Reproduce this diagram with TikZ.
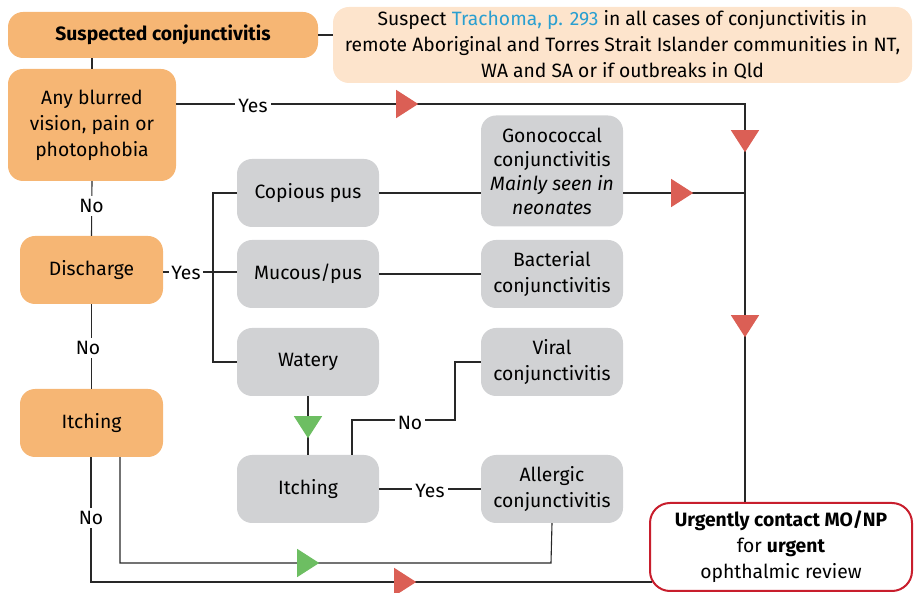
\documentclass[tikz,border=0pt]{standalone}
\usepackage{fontspec}
\setmainfont{Fira Sans}
\usetikzlibrary{arrows.meta,decorations.markings}
\definecolor{orng}{RGB}{246,182,116}
\definecolor{peach}{RGB}{253,228,204}
\definecolor{greybox}{RGB}{209,210,212}
\definecolor{redline}{RGB}{200,30,45}
\definecolor{redtri}{RGB}{219,95,85}
\definecolor{greentri}{RGB}{109,190,98}
\definecolor{linkblue}{RGB}{42,159,208}
\definecolor{wire}{RGB}{40,40,40}
\tikzset{
  basebox/.style={rectangle, rounded corners=15pt, align=center, inner sep=0pt,
    font=\fontsize{19.3}{26}\selectfont, text=black},
  obox/.style={basebox, fill=orng},
  gbox/.style={basebox, fill=greybox},
  pbox/.style={basebox, fill=peach},
  rbox/.style={basebox, fill=white, draw=redline, line width=2pt, rounded corners=20pt},
  conn/.style={draw=wire, line width=1.1pt},
  lbl/.style={fill=white, inner sep=3pt, font=\fontsize{19.3}{26}\selectfont},
  redmark/.style={postaction={decorate,decoration={markings,
    mark=at position #1 with {\arrow[redtri]{Triangle[length=22pt,width=28pt]}}}}},
  greenmark/.style={postaction={decorate,decoration={markings,
    mark=at position #1 with {\arrow[greentri]{Triangle[length=22pt,width=28pt]}}}}},
}
\begin{document}
\begin{tikzpicture}[x=1pt,y=-1pt]
\useasboundingbox (0,0) rectangle (914,593);
% nodes
\node[obox, minimum width=310pt, minimum height=46pt] (susp) at (163,35) {\textbf{Suspected conjunctivitis}};
\node[pbox, minimum width=579pt, minimum height=76pt, rounded corners=16pt] (note) at (622.5,45)
  {Suspect \textcolor{linkblue}{Trachoma, p. 293} in all cases of conjunctivitis in\\
   remote Aboriginal and Torres Strait Islander communities in NT,\\
   WA and SA or if outbreaks in Qld};
\node[obox, minimum width=168pt, minimum height=112pt] (blur) at (92,125) {Any blurred\\vision, pain or\\photophobia};
\node[obox, minimum width=143pt, minimum height=68pt] (disc) at (91.5,270) {Discharge};
\node[obox, minimum width=143pt, minimum height=68pt] (itchO) at (91.5,423) {Itching};
\node[gbox, minimum width=142pt, minimum height=68pt] (cop) at (308,193) {Copious pus};
\node[gbox, minimum width=142pt, minimum height=68pt] (muc) at (308,274) {Mucous/pus};
\node[gbox, minimum width=142pt, minimum height=68pt] (wat) at (308,362) {Watery};
\node[gbox, minimum width=142pt, minimum height=68pt] (itchG) at (308,489) {Itching};
\node[gbox, minimum width=142pt, minimum height=111pt, font=\fontsize{19.3}{24}\selectfont] (gono) at (552,171) {Gonococcal\\conjunctivitis\\\textit{Mainly seen in}\\\textit{neonates}};
\node[gbox, minimum width=142pt, minimum height=68pt] (bact) at (552,274) {Bacterial\\conjunctivitis};
\node[gbox, minimum width=142pt, minimum height=68pt] (vir) at (552,362) {Viral\\conjunctivitis};
\node[gbox, minimum width=142pt, minimum height=68pt] (allerg) at (552,489) {Allergic\\conjunctivitis};
\node[rbox, minimum width=262pt, minimum height=88pt] (urg) at (781,547) {\textbf{Urgently contact MO/NP}\\for \textbf{urgent}\\ophthalmic review};
% helper coordinates
\coordinate (cR) at (745,104);
\coordinate (br) at (213,272);
\coordinate (nA) at (352,420);
\coordinate (nB) at (455,420);
\coordinate (gA) at (120,563);
\coordinate (gB) at (551,563);
\coordinate (rA) at (91,582);
\coordinate (rB) at (652,582);
% connectors
\draw[conn] (susp.east) -- (susp.east -| note.west);
\draw[conn] (susp.south -| blur.north) -- (blur.north);
\draw[conn, redmark=242pt, redmark=617pt, redmark=802pt]
  ([yshift=21pt]blur.east) -- (cR) -- (cR |- urg.north);
\node[lbl] (yes1) at (253,106) {Yes};
\draw[conn] (cop.east) -- (cop.east -| gono.west);
\draw[conn, redmark=70pt] (gono.east |- cop.east) -- (cR |- cop.east);
\draw[conn] (blur.south) -- (disc.north);
\node[lbl] (no1) at (91.5,206) {No};
\draw[conn] (disc.east |- br) -- (br);
\node[lbl, inner sep=2pt] (yes2) at (186,273) {Yes};
\draw[conn] (cop.west) -- (cop.west -| br) -- (wat.west -| br) -- (wat.west);
\draw[conn] (br) -- (br -| muc.west);
\draw[conn] (muc.east) -- (bact.west);
\draw[conn] (disc.south) -- (itchO.north);
\node[lbl] (no2) at (88,348) {No};
\draw[conn, greenmark=42pt] (wat.south) -- (itchG.north);
\draw[conn] (nA |- itchG.north) -- (nA) -- (nB) -- (nB |- vir.west) -- (vir.west);
\node[lbl] (no3) at (410,423) {No};
\draw[conn] (itchG.east) -- (allerg.west);
\node[lbl] (yes3) at (430,491) {Yes};
\draw[conn, greenmark=305pt] (gA |- itchO.south) -- (gA) -- (gB) -- (allerg.south);
\draw[conn, redmark=450pt] (rA |- itchO.south) -- (rA) -- (rB);
\node[lbl] (no4) at (91,518) {No};
\end{tikzpicture}
\end{document}
